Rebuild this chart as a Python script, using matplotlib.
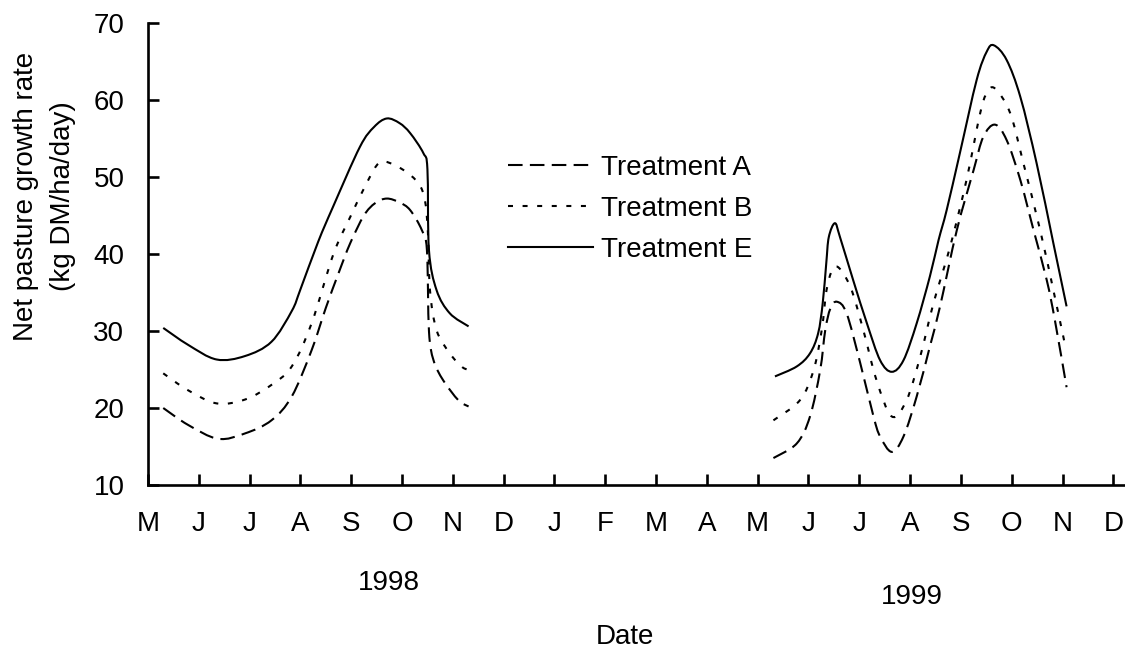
import matplotlib
matplotlib.use('Agg')
import matplotlib.pyplot as plt
from matplotlib.path import Path
from matplotlib.patches import PathPatch
from matplotlib.lines import Line2D

plt.rcParams['font.family'] = ['Liberation Sans', 'DejaVu Sans']

# x positions are month indices: 0 = May 1998, 12 = May 1999
month_labels = ['M', 'J', 'J', 'A', 'S', 'O', 'N', 'D', 'J', 'F', 'M', 'A',
                'M', 'J', 'J', 'A', 'S', 'O', 'N', 'D']
y_ticks = [10, 20, 30, 40, 50, 60, 70]

# Treatment A
a98_x = [0.30, 0.79, 1.38, 1.91, 2.43, 2.83, 3.22, 3.50, 3.75, 3.98, 4.25, 4.47, 4.70,
         4.95, 5.16, 5.39, 5.49, 5.53, 5.62, 5.81, 6.11, 6.31]
a98_y = [20.0, 17.8, 16.0, 16.7, 18.4, 21.5, 27.5, 33.0, 37.5, 41.4, 45.0, 46.6, 47.2,
         46.7, 45.7, 43.1, 40.5, 30.0, 26.2, 23.6, 21.0, 20.2]
a99_x = [12.31, 12.77, 13.03, 13.23, 13.33, 13.43, 13.56, 13.75, 14.02, 14.28, 14.41,
         14.64, 14.87, 15.13, 15.39, 15.59, 15.92, 16.25, 16.44, 16.67, 16.90, 17.17,
         17.43, 17.69, 17.85, 18.08]
a99_y = [13.5, 15.4, 18.9, 24.9, 30.1, 32.9, 33.8, 32.3, 25.8, 18.9, 16.3,
         14.3, 16.3, 21.5, 28.0, 33.2, 43.1, 50.9, 55.2, 56.8, 54.8, 49.6,
         43.1, 36.6, 31.4, 22.7]

# Treatment B
b98_x = [0.30, 0.79, 1.35, 1.91, 2.43, 2.83, 3.22, 3.65, 3.98, 4.25, 4.50, 4.67, 5.03,
         5.32, 5.45, 5.51, 5.55, 5.68, 5.94, 6.17, 6.28]
b98_y = [24.5, 22.3, 20.6, 21.1, 23.0, 25.4, 31.0, 40.0, 44.8, 48.5, 51.5, 52.0, 50.9,
         49.2, 47.0, 42.7, 35.3, 30.1, 27.1, 25.4, 25.0]
b99_x = [12.31, 12.83, 13.10, 13.26, 13.37, 13.54, 13.82, 14.08, 14.34, 14.64, 14.93,
         15.20, 15.46, 15.79, 16.11, 16.38, 16.51, 16.67, 16.97, 17.23, 17.56, 17.82, 18.05]
b99_y = [18.4, 21.0, 24.9, 30.1, 35.8, 38.4, 35.8, 30.1, 23.6, 18.9, 21.0,
         26.7, 33.6, 41.0, 49.6, 58.3, 60.9, 61.5, 58.3, 51.8, 43.1, 35.3, 28.2]

# Treatment E
e98_x = [0.30, 0.79, 1.35, 1.91, 2.43, 2.83, 3.00, 3.35, 3.64, 4.17, 4.45, 4.70, 4.95,
         5.16, 5.42, 5.50, 5.53, 5.68, 5.94, 6.31]
e98_y = [30.4, 28.2, 26.3, 26.75, 28.6, 32.6, 35.4, 41.6, 46.1, 53.9, 56.5, 57.6, 57.0,
         55.7, 53.1, 51.0, 40.5, 35.3, 32.3, 30.6]
e99_x = [12.34, 12.77, 13.03, 13.19, 13.28, 13.35, 13.40, 13.52, 13.62, 13.88, 14.15,
         14.41, 14.64, 14.87, 15.13, 15.39, 15.56, 15.72, 15.98, 16.31, 16.51, 16.65,
         16.90, 17.17, 17.49, 17.82, 18.08]
e99_y = [24.1, 25.4, 27.1, 29.7, 33.6, 38.8, 42.2, 44.0, 42.2, 36.6, 31.0,
         26.2, 24.7, 26.2, 31.0, 37.1, 41.8, 45.7, 53.1, 62.6, 66.3, 67.1,
         65.2, 60.4, 51.8, 41.4, 33.2]


def smooth_path(xs, ys):
    """Excel-style smoothed line: cubic Bezier segments through the data points."""
    pts = list(zip(xs, ys))
    n = len(pts)
    verts = [pts[0]]
    codes = [Path.MOVETO]
    for i in range(n - 1):
        p0 = pts[i - 1] if i > 0 else pts[i]
        p1 = pts[i]
        p2 = pts[i + 1]
        p3 = pts[i + 2] if i + 2 < n else pts[i + 1]
        c1 = (p1[0] + (p2[0] - p0[0]) / 6, p1[1] + (p2[1] - p0[1]) / 6)
        c2 = (p2[0] - (p3[0] - p1[0]) / 6, p2[1] - (p3[1] - p1[1]) / 6)
        verts += [c1, c2, p2]
        codes += [Path.CURVE4] * 3
    return Path(verts, codes)


W, H = 1125, 654
fig = plt.figure(figsize=(W / 100, H / 100), dpi=100)
ax = fig.add_axes([148 / W, 1 - 485 / H, (W - 148) / W, (485 - 23) / H])

lw = 1.5
style_a = dict(color='black', lw=lw, linestyle=(0, (7.0, 3.5)))
style_b = dict(color='black', lw=lw, linestyle=(0, (2.4, 4.6)))
style_e = dict(color='black', lw=lw, linestyle='-')

for xs, ys, st in [(a98_x, a98_y, style_a), (a99_x, a99_y, style_a),
                   (b98_x, b98_y, style_b), (b99_x, b99_y, style_b),
                   (e98_x, e98_y, style_e), (e99_x, e99_y, style_e)]:
    ax.add_patch(PathPatch(smooth_path(xs, ys), fill=False, edgecolor=st['color'],
                           lw=st['lw'], linestyle=st['linestyle'],
                           capstyle='butt', joinstyle='round'))

ax.set_xlim(0, 19.23)
ax.set_ylim(10, 70)
ax.set_xticks(range(len(month_labels)))
ax.set_xticklabels(month_labels)
ax.set_yticks(y_ticks)
for s in ['top', 'right']:
    ax.spines[s].set_visible(False)
for s in ['left', 'bottom']:
    ax.spines[s].set_linewidth(1.9)
ax.tick_params(axis='both', direction='in', width=1.9, labelsize=20)
ax.tick_params(axis='x', length=8, pad=19)
ax.tick_params(axis='y', length=8, pad=17)

handles = [Line2D([], [], **style_a), Line2D([], [], **style_b), Line2D([], [], **style_e)]
ax.legend(handles, ['Treatment A', 'Treatment B', 'Treatment E'],
          loc='upper left', bbox_to_anchor=(0.3685, 0.714), frameon=False,
          fontsize=20, handlelength=3.05, handletextpad=0.3, labelspacing=0.53,
          borderpad=0, borderaxespad=0)

fig.text(26 / W, 1 - 196 / H, 'Net pasture growth rate', rotation=90,
         ha='center', va='center', fontsize=20)
fig.text(63 / W, 1 - 196 / H, '(kg DM/ha/day)', rotation=90,
         ha='center', va='center', fontsize=20)
fig.text(389 / W, 1 - 583 / H, '1998', ha='center', va='center', fontsize=20)
fig.text(912 / W, 1 - 597 / H, '1999', ha='center', va='center', fontsize=20)
fig.text(625 / W, 1 - 637 / H, 'Date', ha='center', va='center', fontsize=20)

fig.savefig('out.png', dpi=100)
